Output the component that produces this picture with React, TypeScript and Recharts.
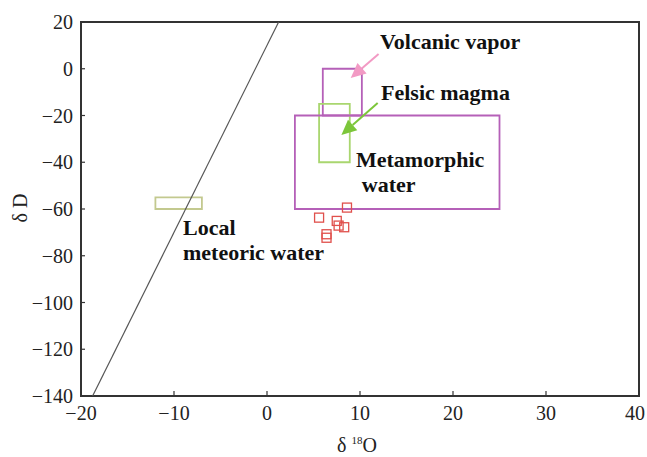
import React from "react"
import {
  ReferenceArea,
  ReferenceDot,
  ReferenceLine,
  Scatter,
  ScatterChart,
  XAxis,
  YAxis,
} from "recharts"

const xTicks = [-20, -10, 0, 10, 20, 30, 40]
const yTicks = [20, 0, -20, -40, -60, -80, -100, -120, -140]

// fluid inclusion samples (δ18O, δD)
const sampleO = [8.6, 5.6, 7.5, 7.7, 8.3, 6.4, 6.4]
const sampleD = [-59.4, -63.7, -65.1, -67.1, -67.8, -70.8, -72.3]

// reference fields [x1, x2, y1, y2]
const boxNames = ["local", "volcanic", "felsic", "metamorphic"]
const boxRanges = [
  [-12, -7, -55, -60],
  [6, 10.2, 0, -20],
  [5.6, 8.9, -15, -40],
  [3, 25, -20, -60],
]
const boxColors = ["#c3c98f", "#b560b8", "#a9d66f", "#b560b8"]

// global meteoric water line δD = 8 δ18O + 10
const mwlO = [-18.75, 1.25]
const mwlD = [-140, 20]

const arrowTail = [
  { x: 12.0, y: 6.3 },
  { x: 11.9, y: -14.6 },
]
const arrowTip = [
  { x: 9.0, y: -4.0 },
  { x: 8.0, y: -28.3 },
]
const arrowColors = ["#f29ac4", "#7cc63a"]

const labelTexts = ["Volcanic vapor", "Felsic magma", "Metamorphic", "water", "Local", "meteoric water"]
const labelX = [12.15, 12.26, 9.57, 10.2, -9.03, -9.03]
const labelY = [8.6, -13.2, -42.0, -52.7, -71.1, -81.8]

const samples = sampleO.map((x, i) => ({ x, y: sampleD[i] }))

const FONT = "'Liberation Serif', 'DejaVu Serif', serif"
const fmt = (v: number) => (v < 0 ? "\u2212" + Math.abs(v) : String(v))

const XTick = (props: any) => {
  const { x, y, payload } = props
  // keep the last label inside the page
  const tx = Math.min(x, 635)
  return (
    <g>
      <line x1={x} x2={x} y1={y} y2={y - 5} stroke="#333" strokeWidth={1.2} />
      <text x={tx} y={y + 24} textAnchor="middle" fontFamily={FONT} fontSize={20} fill="#222">
        {fmt(payload.value)}
      </text>
    </g>
  )
}

const YTick = (props: any) => {
  const { x, y, payload } = props
  return (
    <g>
      <line x1={x} x2={x + 4} y1={y} y2={y} stroke="#333" strokeWidth={1.2} />
      <text x={x - 8} y={y + 7} textAnchor="end" fontFamily={FONT} fontSize={20} fill="#222">
        {fmt(payload.value)}
      </text>
    </g>
  )
}

const Square = (props: any) => {
  const { cx, cy } = props
  return <rect x={cx - 4.5} y={cy - 4.5} width={9} height={9} fill="none" stroke="#e0504c" strokeWidth={1.3} />
}

const makeArrow = (color: string) => (p: any) => {
  const { x1, y1, x2, y2 } = p
  const dx = x2 - x1
  const dy = y2 - y1
  const len = Math.sqrt(dx * dx + dy * dy)
  const ux = dx / len
  const uy = dy / len
  const hl = 15
  const hw = 7
  const bx = x2 - ux * hl
  const by = y2 - uy * hl
  return (
    <g>
      <line x1={x1} y1={y1} x2={bx} y2={by} stroke={color} strokeWidth={2} />
      <polygon
        points={`${x2},${y2} ${bx - uy * hw},${by + ux * hw} ${bx + uy * hw},${by - ux * hw}`}
        fill={color}
      />
    </g>
  )
}

const makeLabel = (text: string) => (p: any) => (
  <text x={p.cx} y={p.cy} fontFamily={FONT} fontSize={22} fontWeight="bold" fill="#111">
    {text}
  </text>
)

export default function App() {
  return (
    <div style={{ position: "absolute", left: 0, top: 0, width: 647, height: 457, background: "#fff" }}>
      <ScatterChart width={647} height={457} margin={{ top: 22, right: 8, bottom: 0, left: 0 }}>
        <XAxis
          type="number"
          dataKey="x"
          domain={[-20, 40]}
          ticks={xTicks}
          allowDataOverflow
          axisLine={false}
          tickLine={false}
          tickSize={0}
          tickMargin={0}
          height={61}
          tick={<XTick />}
          interval={0}
          label={{
            content: () => (
              <text x={357} y={452} textAnchor="middle" fontFamily={FONT} fontSize={20} fill="#222">
                δ <tspan fontSize={11} dy={-8}>18</tspan>
                <tspan dy={8}>O</tspan>
              </text>
            ),
          }}
        />
        <YAxis
          type="number"
          dataKey="y"
          domain={[-140, 20]}
          ticks={yTicks}
          allowDataOverflow
          axisLine={false}
          tickLine={false}
          tickSize={0}
          tickMargin={0}
          width={81}
          tick={<YTick />}
          interval={0}
          label={{
            content: () => (
              <text
                x={20}
                y={208}
                transform="rotate(-90, 20, 208)"
                textAnchor="middle"
                dominantBaseline="central"
                fontFamily={FONT}
                fontSize={20}
                fill="#222"
              >
                δ D
              </text>
            ),
          }}
        />
        <ReferenceArea x1={-20} x2={40} y1={-140} y2={20} fill="none" stroke="#333" strokeWidth={2} ifOverflow="visible" />
        <ReferenceLine
          segment={[
            { x: mwlO[0], y: mwlD[0] },
            { x: mwlO[1], y: mwlD[1] },
          ]}
          stroke="#555"
          strokeWidth={1.2}
        />
        {boxRanges.map((b, i) => (
          <ReferenceArea
            key={boxNames[i]}
            x1={b[0]}
            x2={b[1]}
            y1={b[2]}
            y2={b[3]}
            fill="none"
            stroke={boxColors[i]}
            strokeWidth={1.8}
            fillOpacity={0}
          />
        ))}
        {arrowTail.map((t, i) => (
          <ReferenceLine key={"a" + i} segment={[t, arrowTip[i]]} shape={makeArrow(arrowColors[i])} />
        ))}
        <Scatter data={samples} shape={<Square />} isAnimationActive={false} />
        {labelTexts.map((t, i) => (
          <ReferenceDot key={"l" + i} x={labelX[i]} y={labelY[i]} r={0} shape={makeLabel(t)} />
        ))}
      </ScatterChart>
    </div>
  )
}
